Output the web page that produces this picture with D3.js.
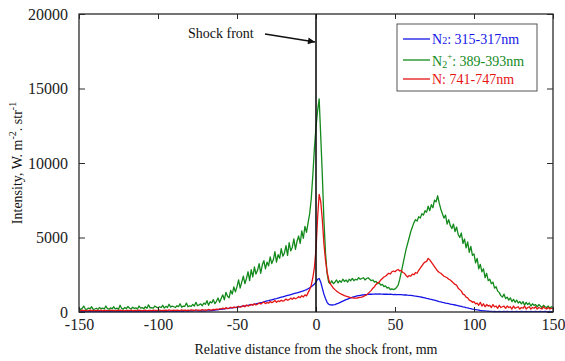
<!DOCTYPE html>
<html>
<head>
<meta charset="utf-8">
<script src="https://cdn.jsdelivr.net/npm/d3@7"></script>
<style>
  html, body { margin: 0; padding: 0; background: #fff; }
  svg { display: block; font-family: "Liberation Serif", "Times New Roman", serif; }
</style>
</head>
<body>
<svg id="chart" width="565" height="361"></svg>
<script>
// Sample positions along the tube, mm relative to the shock front (1 mm step)
const positions = d3.range(-150, 151, 1);

// N2+ 389-393 nm emission
const green = [
  300, 150, 250, 400, 200, 180, 260, 220, 350, 180,
  200, 250, 180, 300, 220, 260, 200, 400, 230, 190,
  280, 220, 350, 200, 260, 180, 450, 240, 200, 300,
  220, 380, 250, 200, 320, 240, 280, 200, 400, 260,
  300, 220, 350, 250, 480, 280, 300, 260, 400, 320,
  280, 350, 300, 450, 260, 380, 300, 520, 330, 400,
  350, 300, 420, 360, 550, 320, 400, 380, 600, 350,
  420, 380, 500, 400, 650, 420, 480, 550, 420, 600,
  520, 760, 450, 690, 610, 830, 560, 720, 940, 650,
  900, 1150, 820, 1320, 1060, 950, 1450, 1200, 1680, 1350,
  1700, 2150, 1600, 2000, 2400, 1900, 2250, 2700, 2100, 2850,
  2350, 3020, 2550, 2800, 3250, 2600, 3150, 3450, 2900, 3350,
  3100, 3700, 3250, 3500, 4050, 3350, 3850, 3600, 4250, 3750,
  3950, 4450, 3800, 4650, 4100, 4350, 4900, 4200, 4750, 5100,
  4600, 5450, 4950, 5750, 5350, 6000, 6600, 7600, 9200, 11000,
  12400, 13500, 14300, 11800, 9200, 6200, 4000, 2600, 2000, 1900,
  2100, 1900, 2000, 2150, 1950, 2100, 2000, 2200, 2050, 2150,
  2000, 2200, 2100, 2250, 2100, 2200, 2150, 2300, 2200, 2250,
  2300, 2150, 2250, 2300, 2200, 2100, 2150, 2000, 2050, 1900,
  1950, 1800, 1850, 1700, 1750, 1600, 1650, 1500, 1550, 1500,
  1550, 1650, 1800, 2200, 2700, 3200, 3700, 4200, 4600, 5000,
  5400, 5700, 6000, 6200, 6100, 6400, 6300, 6600, 6500, 6800,
  6700, 7100, 6800, 7200, 7000, 7500, 7400, 7800, 7300, 6900,
  6600, 6300, 6500, 5900, 6200, 5800, 5600, 5900, 5400, 5700,
  5200, 5000, 5300, 4600, 4900, 4300, 4700, 4000, 4400, 3800,
  3900, 3300, 3600, 2900, 3200, 2700, 2900, 2300, 2600, 2100,
  2200, 1900, 2000, 1600, 1700, 1400, 1300, 1100, 1000, 1200,
  900, 1000, 800, 950, 700, 850, 650, 800, 600, 700,
  550, 700, 450, 650, 500, 600, 400, 550, 450, 500,
  350, 500, 400, 300, 450, 350, 300, 400, 250, 350, 300
];

// N2 315-317 nm emission
const blue = [
  30, 40, 30, 20, 40, 30, 30, 40, 20, 30,
  40, 30, 30, 20, 40, 30, 40, 30, 20, 30,
  30, 40, 30, 30, 20, 40, 30, 30, 40, 30,
  30, 20, 40, 30, 30, 40, 30, 20, 30, 40,
  30, 40, 30, 30, 40, 30, 40, 30, 40, 30,
  40, 30, 40, 40, 30, 40, 50, 40, 40, 50,
  40, 50, 50, 40, 60, 50, 50, 60, 60, 50,
  60, 70, 60, 80, 70, 60, 70, 60, 70, 60,
  60, 70, 80, 80, 100, 110, 120, 140, 150, 170,
  180, 200, 210, 230, 240, 250, 270, 280, 300, 310,
  330, 350, 360, 380, 400, 410, 430, 450, 470, 490,
  500, 530, 550, 580, 600, 630, 650, 680, 710, 740,
  760, 790, 820, 850, 880, 900, 930, 960, 990, 1020,
  1050, 1080, 1110, 1140, 1170, 1200, 1230, 1260, 1290, 1320,
  1350, 1380, 1420, 1460, 1500, 1560, 1620, 1700, 1780, 1880,
  2000, 2200, 2250, 2000, 1600, 1200, 900, 650, 520, 480,
  470, 480, 500, 540, 580, 630, 680, 730, 780, 830,
  870, 910, 950, 990, 1020, 1050, 1080, 1100, 1120, 1140,
  1150, 1160, 1170, 1180, 1190, 1190, 1200, 1200, 1210, 1200,
  1210, 1200, 1200, 1190, 1200, 1190, 1180, 1190, 1180, 1170,
  1180, 1170, 1160, 1170, 1160, 1150, 1140, 1150, 1130, 1120,
  1110, 1100, 1080, 1070, 1050, 1030, 1010, 990, 970, 950,
  920, 900, 870, 850, 820, 790, 760, 730, 700, 680,
  650, 630, 600, 580, 560, 530, 510, 490, 470, 450,
  420, 400, 380, 350, 330, 300, 280, 250, 230, 200,
  180, 160, 140, 120, 100, 90, 80, 70, 60, 50,
  40, 40, 30, 40, 30, 30, 40, 30, 30, 40,
  30, 40, 30, 30, 40, 30, 30, 40, 30, 30,
  40, 30, 30, 40, 30, 30, 40, 30, 30, 40,
  30, 30, 40, 30, 30, 40, 30, 30, 40, 30, 30
];

// N 741-747 nm emission
const red = [
  100, 80, 120, 90, 110, 70, 100, 130, 90, 100,
  80, 110, 100, 90, 120, 80, 100, 110, 90, 100,
  120, 90, 100, 80, 110, 100, 130, 90, 100, 80,
  100, 110, 90, 120, 80, 100, 110, 90, 130, 100,
  90, 100, 120, 80, 110, 100, 90, 120, 100, 110,
  100, 130, 90, 110, 100, 120, 90, 140, 100, 110,
  120, 100, 130, 110, 90, 140, 110, 120, 100, 130,
  110, 140, 120, 100, 150, 120, 130, 110, 160, 130,
  140, 120, 170, 150, 130, 180, 160, 200, 170, 220,
  200, 260, 210, 290, 230, 250, 320, 270, 340, 290,
  310, 390, 320, 360, 440, 350, 470, 400, 440, 510,
  450, 560, 470, 520, 610, 530, 600, 670, 560, 640,
  590, 710, 630, 680, 770, 650, 740, 700, 790, 730,
  770, 870, 790, 830, 930, 850, 960, 890, 940, 1030,
  960, 1090, 1010, 1150, 1080, 1300, 1500, 1800, 2300, 3000,
  4200, 6300, 7900, 7400, 6200, 4600, 3500, 2700, 2200, 1900,
  1750, 1600, 1500, 1400, 1330, 1260, 1200, 1150, 1100, 1060,
  1030, 1000, 970, 950, 940, 930, 940, 960, 980, 1000,
  1050, 1100, 1150, 1250, 1350, 1450, 1600, 1700, 1850, 1950,
  2000, 2150, 2250, 2350, 2400, 2500, 2600, 2550, 2700, 2750,
  2700, 2800, 2850, 2750, 2800, 2650, 2600, 2450, 2350, 2450,
  2400, 2550, 2500, 2650, 2600, 2800, 2950, 3100, 3250, 3350,
  3400, 3600, 3500, 3350, 3200, 3050, 2900, 2750, 2650, 2600,
  2500, 2400, 2350, 2300, 2200, 2150, 2050, 1950, 1850, 1800,
  1600, 1500, 1400, 1200, 1150, 1000, 950, 800, 750, 650,
  700, 550, 600, 450, 650, 400, 550, 350, 500, 400,
  450, 300, 500, 350, 400, 250, 450, 300, 350, 400,
  250, 400, 300, 350, 200, 400, 250, 300, 350, 200,
  300, 250, 400, 200, 300, 350, 200, 300, 250, 350,
  200, 300, 250, 200, 350, 250, 200, 300, 200, 250, 200
];

const xTicks = [-150, -100, -50, 0, 50, 100, 150];
const yTicks = [0, 5000, 10000, 15000, 20000];

const seriesColors = { blue: "#1414e6", green: "#138a1c", red: "#e41414" };

const svg = d3.select("#chart");
const plot = { left: 79, right: 553, top: 14, bottom: 312 };

const x = d3.scaleLinear().domain([-150, 150]).range([plot.left, plot.right]);
const y = d3.scaleLinear().domain([0, 20000]).range([plot.bottom, plot.top]);

const axisColor = "#2a2a2a";
const plainNumber = d => String(d);

// Data lines
const line = d3.line()
  .x((d, i) => x(positions[i]))
  .y(d => y(d));

const series = [
  { name: "green", values: green, color: seriesColors.green },
  { name: "blue", values: blue, color: seriesColors.blue },
  { name: "red", values: red, color: seriesColors.red }
];

svg.append("g")
  .selectAll("path")
  .data(series)
  .join("path")
  .attr("d", d => line(d.values))
  .attr("fill", "none")
  .attr("stroke", d => d.color)
  .attr("stroke-width", 1.3)
  .attr("stroke-linejoin", "round");

// Axes with inward ticks on all four sides
function styleAxis(g) {
  g.select(".domain").remove();
  g.selectAll(".tick line").attr("stroke", axisColor).attr("stroke-width", 1);
  g.selectAll(".tick text")
    .attr("fill", "#222")
    .style("font-family", "'Liberation Serif', 'Times New Roman', serif")
    .style("font-size", "16px");
}

svg.append("g")
  .attr("transform", `translate(0,${plot.bottom})`)
  .call(d3.axisBottom(x).tickValues(xTicks).tickSizeInner(-5).tickSizeOuter(0).tickPadding(7)
    .tickFormat(plainNumber))
  .call(styleAxis);

svg.append("g")
  .attr("transform", `translate(0,${plot.top})`)
  .call(d3.axisTop(x).tickValues(xTicks).tickSizeInner(-5).tickSizeOuter(0).tickFormat(""))
  .call(styleAxis);

svg.append("g")
  .attr("transform", `translate(${plot.left},0)`)
  .call(d3.axisLeft(y).tickValues(yTicks).tickSizeInner(-6).tickSizeOuter(0).tickPadding(11)
    .tickFormat(plainNumber))
  .call(styleAxis);

svg.append("g")
  .attr("transform", `translate(${plot.right},0)`)
  .call(d3.axisRight(y).tickValues(yTicks).tickSizeInner(-6).tickSizeOuter(0).tickFormat(""))
  .call(styleAxis);

// Frame
svg.append("rect")
  .attr("x", plot.left)
  .attr("y", plot.top)
  .attr("width", plot.right - plot.left)
  .attr("height", plot.bottom - plot.top)
  .attr("fill", "none")
  .attr("stroke", axisColor)
  .attr("stroke-width", 1.3);

// Shock front marker
svg.append("line")
  .attr("x1", x(0)).attr("x2", x(0))
  .attr("y1", plot.top).attr("y2", plot.bottom)
  .attr("stroke", "#111")
  .attr("stroke-width", 1.6);

svg.append("defs").append("marker")
  .attr("id", "arrowhead")
  .attr("viewBox", "0 0 10 10")
  .attr("refX", 10).attr("refY", 5)
  .attr("markerWidth", 9).attr("markerHeight", 7)
  .attr("markerUnits", "userSpaceOnUse")
  .attr("orient", "auto")
  .append("path")
  .attr("d", "M0,0 L10,5 L0,10 Z")
  .attr("fill", "#111");

svg.append("text")
  .attr("x", 188)
  .attr("y", 38)
  .attr("font-size", 14)
  .attr("fill", "#111")
  .text("Shock front");

svg.append("line")
  .attr("x1", 265).attr("y1", 34)
  .attr("x2", x(0) - 1).attr("y2", 42)
  .attr("stroke", "#111")
  .attr("stroke-width", 1.3)
  .attr("marker-end", "url(#arrowhead)");

// Legend
const legend = svg.append("g");
legend.append("rect")
  .attr("x", 397).attr("y", 24)
  .attr("width", 140).attr("height", 67)
  .attr("fill", "#fff")
  .attr("stroke", "#555")
  .attr("stroke-width", 1);

function legendSwatch(color, ly) {
  legend.append("line")
    .attr("x1", 403).attr("x2", 430)
    .attr("y1", ly).attr("y2", ly)
    .attr("stroke", color)
    .attr("stroke-width", 1.3);
}

// N2: 315-317nm
legendSwatch(seriesColors.blue, 39);
const t1 = legend.append("text").attr("x", 432).attr("y", 44)
  .attr("font-size", 14).attr("fill", seriesColors.blue);
t1.append("tspan").text("N");
t1.append("tspan").attr("font-size", 10).text("2");
t1.append("tspan").text(": 315-317nm");

// N2+: 389-393nm
legendSwatch(seriesColors.green, 60);
const t2 = legend.append("text").attr("x", 432).attr("y", 66)
  .attr("font-size", 14).attr("fill", seriesColors.green);
t2.append("tspan").text("N");
t2.append("tspan").attr("font-size", 10).attr("dy", 2).text("2");
t2.append("tspan").attr("font-size", 9).attr("dx", 0).attr("dy", -9).text("+");
t2.append("tspan").attr("dy", 7).text(": 389-393nm");

// N: 741-747nm
legendSwatch(seriesColors.red, 79);
legend.append("text").attr("x", 432).attr("y", 84)
  .attr("font-size", 14).attr("fill", seriesColors.red)
  .text("N: 741-747nm");

// Axis titles
svg.append("text")
  .attr("x", x(0))
  .attr("y", 354)
  .attr("text-anchor", "middle")
  .attr("font-size", 14)
  .attr("fill", "#111")
  .text("Relative distance from the shock front, mm");

const yTitle = svg.append("text")
  .attr("transform", `translate(22,${(plot.top + plot.bottom) / 2}) rotate(-90)`)
  .attr("text-anchor", "middle")
  .attr("font-size", 14)
  .attr("fill", "#111");
yTitle.append("tspan").text("Intensity, W. m");
yTitle.append("tspan").attr("font-size", 10).attr("dy", -6).text("-2");
yTitle.append("tspan").attr("dy", 6).text(". str");
yTitle.append("tspan").attr("font-size", 10).attr("dy", -6).text("-1");
</script>
</body>
</html>
